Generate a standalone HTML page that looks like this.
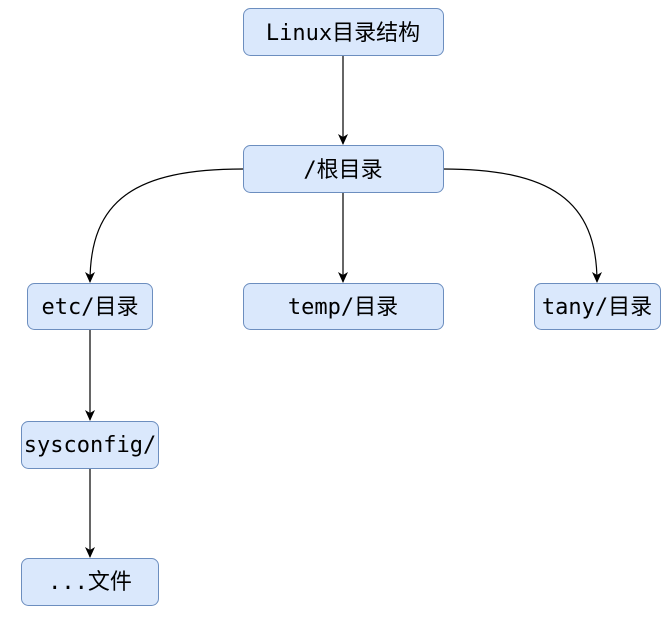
<!DOCTYPE html>
<html><head><meta charset="utf-8"><style>
body{margin:0;background:#fff;width:671px;height:614px;overflow:hidden}
svg text{font-family:"DejaVu Sans Mono","Liberation Mono","Noto Sans CJK SC",monospace;font-size:22px;fill:#000}
</style></head><body>
<svg width="671" height="614" viewBox="0 0 671 614" xmlns="http://www.w3.org/2000/svg">
<defs><marker id="a" markerWidth="12" markerHeight="12" refX="10" refY="6" orient="auto" markerUnits="userSpaceOnUse"><path d="M0,1 L11,6 L0,11 L3,6 Z" fill="#000"/></marker></defs>
<g fill="none" stroke="#000" stroke-width="1.2">
<path d="M343 55 V144" marker-end="url(#a)"/>
<path d="M343 192 V282" marker-end="url(#a)"/>
<path d="M243 169 C135 169 90 200 90 282" marker-end="url(#a)"/>
<path d="M443 169 C550 169 597 200 597 282" marker-end="url(#a)"/>
<path d="M90 329 V420" marker-end="url(#a)"/>
<path d="M90 468 V557" marker-end="url(#a)"/>
</g>
<g fill="#dae8fc" stroke="#6c8ebf" stroke-width="1">
<rect x="243.5" y="8.5" width="200" height="47" rx="7"/>
<rect x="243.5" y="145.5" width="200" height="47" rx="7"/>
<rect x="27.5" y="283.5" width="125" height="46" rx="7"/>
<rect x="243.5" y="283.5" width="200" height="46" rx="7"/>
<rect x="534.5" y="283.5" width="126" height="46" rx="7"/>
<rect x="21.5" y="421.5" width="137" height="47" rx="7"/>
<rect x="21.5" y="558.5" width="137" height="47" rx="7"/>
</g>
<g text-anchor="middle">
<text x="343" y="40">Linux目录结构</text>
<text x="343" y="177">/根目录</text>
<text x="90" y="314">etc/目录</text>
<text x="343" y="314">temp/目录</text>
<text x="597" y="314">tany/目录</text>
<text x="90" y="452">sysconfig/</text>
<text x="90" y="589">...文件</text>
</g>
</svg>
</body></html>
